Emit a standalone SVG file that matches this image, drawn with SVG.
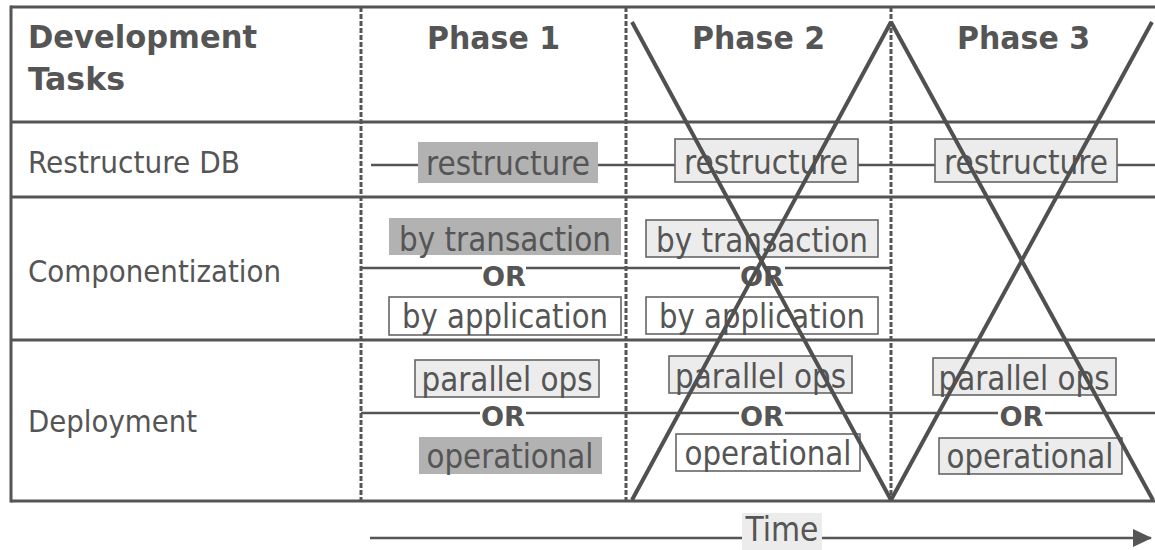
<svg xmlns="http://www.w3.org/2000/svg" width="1155" height="550" viewBox="0 0 1155 550">
<style>
text{font-family:"DejaVu Sans Condensed","DejaVu Sans",sans-serif;fill:#555}
.h{font-weight:bold;font-size:32px}
.lbl{font-size:31px}
.bx{font-size:33px;text-anchor:middle}
.or{font-weight:bold;font-size:27px;text-anchor:middle}
.grid{stroke:#555;stroke-width:3;fill:none}
.dash{stroke:#555;stroke-width:3;stroke-dasharray:5 2;fill:none}
.conn{stroke:#555;stroke-width:2.3;fill:none}
.gray{fill:#b2b2b2}
.light{fill:#ececec;stroke:#666;stroke-width:1.6}
.white{fill:#fff;stroke:#666;stroke-width:1.6}
.x{stroke:#505050;stroke-width:4;fill:none}
</style>
<defs>
<marker id="arr" markerWidth="19" markerHeight="18" refX="18" refY="9" orient="auto" markerUnits="userSpaceOnUse" viewBox="0 0 19 18">
<path d="M0,0 L19,9 L0,18 Z" fill="#555"/>
</marker>
</defs>
<g id="table">
<line class="grid" x1="11" y1="7" x2="1155" y2="7"/>
<line class="grid" x1="11" y1="122" x2="1155" y2="122"/>
<line class="grid" x1="11" y1="197" x2="1155" y2="197"/>
<line class="grid" x1="11" y1="340" x2="1155" y2="340"/>
<line class="grid" x1="11" y1="501" x2="1155" y2="501"/>
<line class="grid" x1="11" y1="5.5" x2="11" y2="502.5"/>
<line class="dash" x1="361" y1="7" x2="361" y2="501"/>
<line class="dash" x1="626" y1="7" x2="626" y2="501"/>
<line class="dash" x1="891" y1="7" x2="891" y2="501"/>
</g>
<g id="headers">
<text class="h" x="28" y="48" textLength="229" lengthAdjust="spacingAndGlyphs">Development</text>
<text class="h" x="28" y="90" textLength="97" lengthAdjust="spacingAndGlyphs">Tasks</text>
<text class="h" x="427" y="49" textLength="133" lengthAdjust="spacingAndGlyphs">Phase 1</text>
<text class="h" x="692" y="49" textLength="133" lengthAdjust="spacingAndGlyphs">Phase 2</text>
<text class="h" x="957" y="49" textLength="133" lengthAdjust="spacingAndGlyphs">Phase 3</text>
</g>
<g id="row-labels">
<text class="lbl" x="28" y="173" textLength="212" lengthAdjust="spacingAndGlyphs">Restructure DB</text>
<text class="lbl" x="28" y="282" textLength="253" lengthAdjust="spacingAndGlyphs">Componentization</text>
<text class="lbl" x="28" y="432" textLength="169" lengthAdjust="spacingAndGlyphs">Deployment</text>
</g>
<g id="connectors">
<path class="conn" stroke-width="1.8" d="M371,165H418M598,165H675M858,165H935M1117,165H1155"/>
<path class="conn" d="M361,268H482M526,268H740M785,268H891"/>
<path class="conn" d="M361,413H480M526,413H739M785,413H998M1045,413H1155"/>
<path class="conn" d="M370,538H742M822,538H1151" marker-end="url(#arr)"/>
</g>
<g id="p1-restructure"><rect class="gray" x="418" y="142" width="180" height="41"/><text class="bx" x="508" y="175" textLength="164" lengthAdjust="spacingAndGlyphs">restructure</text></g>
<g id="p2-restructure"><rect class="light" x="675" y="139" width="183" height="43"/><text class="bx" x="766" y="174" textLength="164" lengthAdjust="spacingAndGlyphs">restructure</text></g>
<g id="p3-restructure"><rect class="light" x="935" y="139" width="182" height="43"/><text class="bx" x="1026" y="174" textLength="164" lengthAdjust="spacingAndGlyphs">restructure</text></g>
<g id="p1-transaction"><rect class="gray" x="389" y="218" width="232" height="37"/><text class="bx" x="505" y="251" textLength="212" lengthAdjust="spacingAndGlyphs">by transaction</text></g>
<g id="p1-or1"><text class="or" x="504" y="286" textLength="44" lengthAdjust="spacingAndGlyphs">OR</text></g>
<g id="p1-application"><rect class="white" x="389" y="297" width="232" height="38"/><text class="bx" x="505" y="328" textLength="206" lengthAdjust="spacingAndGlyphs">by application</text></g>
<g id="p2-transaction"><rect class="light" x="646" y="220" width="232" height="37"/><text class="bx" x="762" y="252" textLength="212" lengthAdjust="spacingAndGlyphs">by transaction</text></g>
<g id="p2-or1"><text class="or" x="762" y="286" textLength="44" lengthAdjust="spacingAndGlyphs">OR</text></g>
<g id="p2-application"><rect class="white" x="646" y="297" width="232" height="37"/><text class="bx" x="762" y="328" textLength="206" lengthAdjust="spacingAndGlyphs">by application</text></g>
<g id="p1-parallel"><rect class="light" x="415" y="360" width="184" height="37"/><text class="bx" x="507" y="391" textLength="171" lengthAdjust="spacingAndGlyphs">parallel ops</text></g>
<g id="p1-or2"><text class="or" x="503" y="426" textLength="44" lengthAdjust="spacingAndGlyphs">OR</text></g>
<g id="p1-operational"><rect class="gray" x="419" y="437" width="183" height="37"/><text class="bx" x="510" y="468" textLength="167" lengthAdjust="spacingAndGlyphs">operational</text></g>
<g id="p2-parallel"><rect class="light" x="669" y="356" width="183" height="37"/><text class="bx" x="760.5" y="388" textLength="171" lengthAdjust="spacingAndGlyphs">parallel ops</text></g>
<g id="p2-or2"><text class="or" x="762" y="426" textLength="44" lengthAdjust="spacingAndGlyphs">OR</text></g>
<g id="p2-operational"><rect class="white" x="676" y="434" width="184" height="37"/><text class="bx" x="768" y="465" textLength="167" lengthAdjust="spacingAndGlyphs">operational</text></g>
<g id="p3-parallel"><rect class="light" x="933" y="358" width="183" height="37"/><text class="bx" x="1024" y="390" textLength="171" lengthAdjust="spacingAndGlyphs">parallel ops</text></g>
<g id="p3-or2"><text class="or" x="1021.5" y="426" textLength="44" lengthAdjust="spacingAndGlyphs">OR</text></g>
<g id="p3-operational"><rect class="light" x="939" y="438" width="183" height="36"/><text class="bx" x="1030" y="468" textLength="167" lengthAdjust="spacingAndGlyphs">operational</text></g>
<g id="time"><rect x="742" y="513" width="80" height="37" fill="#ececec"/><text class="bx" x="782" y="541" font-size="30" textLength="73" lengthAdjust="spacingAndGlyphs">Time</text></g>
<g id="crosses">
<line class="x" x1="632" y1="22" x2="891" y2="500"/>
<line class="x" x1="891" y1="22" x2="632" y2="500"/>
<line class="x" x1="891" y1="22" x2="1153" y2="500"/>
<line class="x" x1="1152" y1="22" x2="891" y2="500"/>
</g>
</svg>
